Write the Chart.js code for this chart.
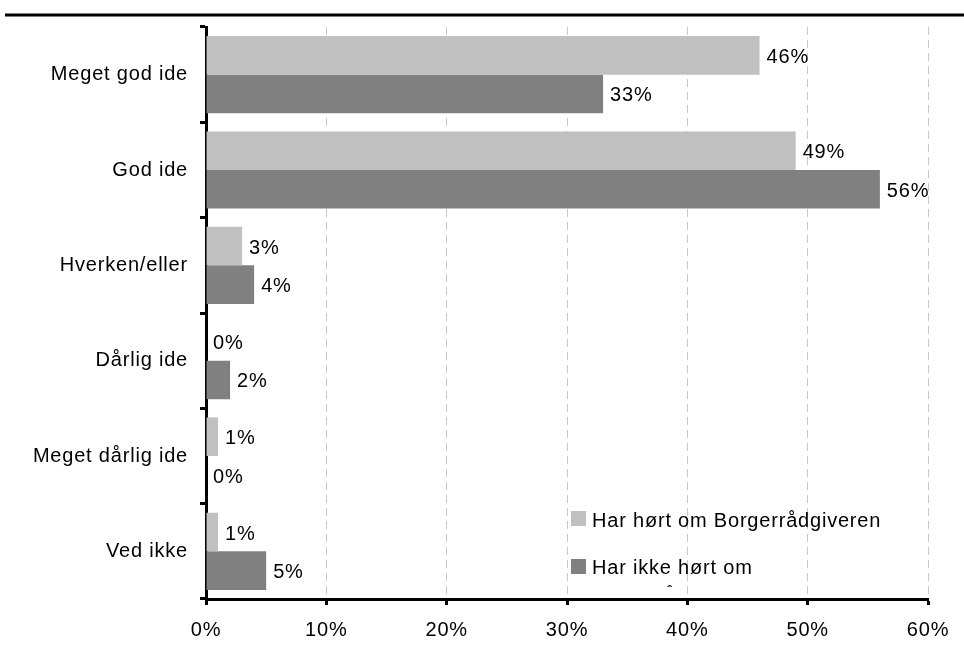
<!DOCTYPE html>
<html>
<head>
<meta charset="utf-8">
<script src="https://cdn.jsdelivr.net/npm/chart.js@4/dist/chart.umd.min.js"></script>
<style>
  html, body { margin: 0; padding: 0; background: #fff; }
  #wrap { width: 964px; height: 653px; }
</style>
</head>
<body>
<div id="wrap"><canvas id="c" width="964" height="653"></canvas></div>
<script>
const categories = ['Meget god ide', 'God ide', 'Hverken/eller', 'Dårlig ide', 'Meget dårlig ide', 'Ved ikke'];
const heardValues = [46, 49, 3, 0, 1, 1];
const notHeardValues = [33, 56, 4, 2, 0, 5];
const xTicks = [0, 10, 20, 30, 40, 50, 60];
const seriesNames = ['Har hørt om Borgerrådgiveren', 'Har ikke hørt om Borgerrådgiveren'];

const FONT = '"Liberation Sans", Arial, sans-serif';
const FONT_SIZE = 20;
const SPACING = '0.8px';
const LIGHT = '#c0c0c0';
const DARK = '#808080';

// Letter spacing for every text drawn on the canvas, plus the rule above the chart
const framePlugin = {
  id: 'frame',
  beforeDraw(chart) {
    const ctx = chart.ctx;
    ctx.letterSpacing = SPACING;
    ctx.save();
    ctx.strokeStyle = '#000';
    ctx.lineWidth = 3;
    ctx.beginPath();
    ctx.moveTo(5, 15);
    ctx.lineTo(964, 15);
    ctx.stroke();
    ctx.restore();
  }
};

// Percent labels at the end of each bar
const valueLabels = {
  id: 'valueLabels',
  afterDatasetsDraw(chart) {
    const ctx = chart.ctx;
    ctx.save();
    ctx.letterSpacing = SPACING;
    ctx.font = FONT_SIZE + 'px ' + FONT;
    ctx.fillStyle = '#000';
    ctx.textAlign = 'left';
    ctx.textBaseline = 'middle';
    chart.data.datasets.forEach((ds, di) => {
      chart.getDatasetMeta(di).data.forEach((bar, i) => {
        ctx.fillText(ds.data[i] + '%', bar.x + 7, bar.y + 2);
      });
    });
    ctx.restore();
  }
};

// Legend placed inside the plot, lower right
const insideLegend = {
  id: 'insideLegend',
  afterDraw(chart) {
    const ctx = chart.ctx;
    const x0 = 571, size = 15;
    ctx.save();
    ctx.letterSpacing = SPACING;
    ctx.font = FONT_SIZE + 'px ' + FONT;
    ctx.textAlign = 'left';
    ctx.textBaseline = 'alphabetic';

    ctx.fillStyle = LIGHT;
    ctx.fillRect(x0, 511, size, size);
    ctx.fillStyle = '#000';
    ctx.fillText(seriesNames[0], 592, 527);

    ctx.fillStyle = DARK;
    ctx.fillRect(x0, 559, size, size);
    ctx.fillStyle = '#000';
    const words = seriesNames[1].split(' ');
    const line2 = words.pop();
    ctx.fillText(words.join(' '), 592, 574);

    // the wrapped second line runs into the axis and is cut off
    ctx.beginPath();
    ctx.rect(560, 500, 330, 587 - 500);
    ctx.clip();
    ctx.fillText(line2, 592, 602);
    ctx.restore();
  }
};

new Chart(document.getElementById('c'), {
  type: 'bar',
  data: {
    labels: categories,
    datasets: [
      { label: seriesNames[0], data: heardValues, backgroundColor: LIGHT, borderWidth: 0,
        barPercentage: 1.0, categoryPercentage: 0.81 },
      { label: seriesNames[1], data: notHeardValues, backgroundColor: DARK, borderWidth: 0,
        barPercentage: 1.0, categoryPercentage: 0.81 }
    ]
  },
  options: {
    indexAxis: 'y',
    responsive: false,
    animation: false,
    layout: { padding: { top: 27, right: 36, left: 0, bottom: 0 } },
    plugins: {
      legend: { display: false },
      tooltip: { enabled: false }
    },
    scales: {
      x: {
        min: 0,
        max: 60,
        afterBuildTicks(scale) {
          scale.ticks = xTicks.map(v => ({ value: v }));
        },
        afterFit(scale) { scale.height = 54; },
        ticks: {
          color: '#000',
          font: { family: FONT, size: FONT_SIZE },
          padding: 13,
          maxRotation: 0,
          callback: v => v + '%'
        },
        grid: {
          color: '#c8c8c8',
          lineWidth: 1,
          drawTicks: true,
          tickLength: 6,
          tickColor: '#000',
          tickWidth: 3,
          tickBorderDash: [0, 0]
        },
        border: { display: true, color: '#000', width: 3, dash: [8, 5] }
      },
      y: {
        offset: true,
        afterFit(scale) { scale.width = 206; },
        ticks: {
          color: '#000',
          font: { family: FONT, size: FONT_SIZE },
          padding: 12
        },
        grid: {
          offset: true,
          drawOnChartArea: false,
          drawTicks: true,
          tickLength: 6,
          color: '#000',
          lineWidth: 3
        },
        border: { display: true, color: '#000', width: 3 }
      }
    }
  },
  plugins: [framePlugin, valueLabels, insideLegend]
});
</script>
</body>
</html>
